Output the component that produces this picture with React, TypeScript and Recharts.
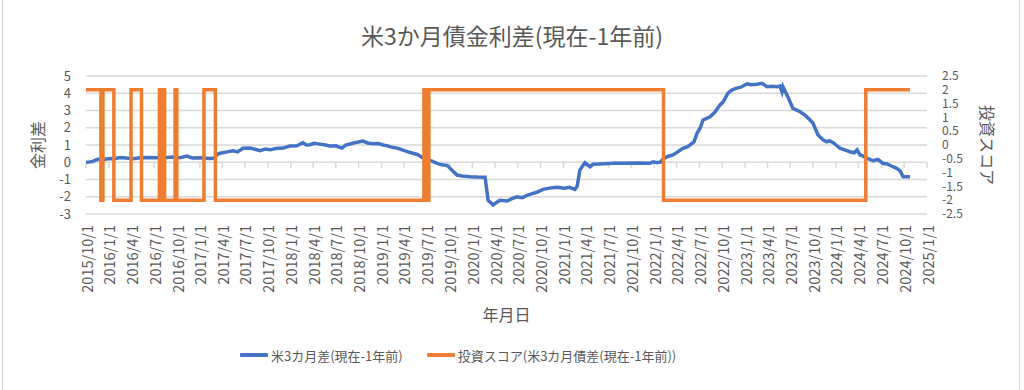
import React from 'react';
import { ComposedChart, Line, XAxis, YAxis, CartesianGrid, Legend, ReferenceLine } from 'recharts';

const FONT = '"Noto Sans CJK JP", "Noto Sans", sans-serif';
const TEXT = '#595959';
const BLUE = '#4472C4';
const ORANGE = '#ED7D31';

const chartTitle = '米3か月債金利差(現在-1年前)';
const rateName = '米3カ月差(現在-1年前)';
const scoreName = '投資スコア(米3カ月債差(現在-1年前))';
const leftAxisTitle = '金利差';
const rightAxisTitle = '投資スコア';
const xAxisTitle = '年月日';

const xTickLabels = [
  '2015/10/1', '2016/1/1', '2016/4/1', '2016/7/1', '2016/10/1', '2017/1/1', '2017/4/1', '2017/7/1',
  '2017/10/1', '2018/1/1', '2018/4/1', '2018/7/1', '2018/10/1', '2019/1/1', '2019/4/1', '2019/7/1',
  '2019/10/1', '2020/1/1', '2020/4/1', '2020/7/1', '2020/10/1', '2021/1/1', '2021/4/1', '2021/7/1',
  '2021/10/1', '2022/1/1', '2022/4/1', '2022/7/1', '2022/10/1', '2023/1/1', '2023/4/1', '2023/7/1',
  '2023/10/1', '2024/1/1', '2024/4/1', '2024/7/1', '2024/10/1', '2025/1/1',
];
const leftTicks = [-3, -2, -1, 0, 1, 2, 3, 4, 5];
const rightTicks = [-2.5, -2, -1.5, -1, -0.5, 0, 0.5, 1, 1.5, 2, 2.5];

const rateDates = [
  '2015/10/1', '2015/10/15', '2015/10/29', '2015/11/12', '2015/11/26', '2015/12/17', '2016/1/5', '2016/1/21',
  '2016/2/15', '2016/3/10', '2016/4/7', '2016/5/5', '2016/6/2', '2016/7/7', '2016/8/22', '2016/9/15',
  '2016/10/13', '2016/11/10', '2016/12/1', '2017/1/1', '2017/2/10', '2017/3/2', '2017/3/10', '2017/3/23',
  '2017/4/20', '2017/5/14', '2017/6/1', '2017/6/23', '2017/7/21', '2017/8/10', '2017/8/30', '2017/9/20',
  '2017/10/10', '2017/11/1', '2017/12/1', '2017/12/29', '2018/1/25', '2018/2/19', '2018/3/5', '2018/3/19',
  '2018/4/5', '2018/4/28', '2018/5/20', '2018/6/8', '2018/7/1', '2018/7/26', '2018/8/10', '2018/8/27',
  '2018/9/20', '2018/10/18', '2018/11/5', '2018/11/27', '2018/12/20', '2019/1/7', '2019/1/25', '2019/2/16',
  '2019/3/5', '2019/3/28', '2019/4/15', '2019/5/7', '2019/5/25', '2019/6/16', '2019/7/5', '2019/7/25',
  '2019/8/12', '2019/8/30', '2019/9/21', '2019/10/10', '2019/10/31', '2019/11/20', '2019/12/22', '2020/1/20',
  '2020/2/21', '2020/3/4', '2020/3/24', '2020/4/10', '2020/4/21', '2020/5/19', '2020/6/10', '2020/6/28',
  '2020/7/20', '2020/8/10', '2020/9/1', '2020/9/20', '2020/10/11', '2020/11/5', '2020/12/6', '2021/1/5',
  '2021/1/25', '2021/2/16', '2021/2/25', '2021/3/8', '2021/3/28', '2021/4/18', '2021/4/30', '2021/5/28',
  '2021/7/19', '2021/11/5', '2021/12/15', '2021/12/27', '2022/1/10', '2022/1/24', '2022/2/7', '2022/2/21',
  '2022/3/17', '2022/4/5', '2022/4/26', '2022/5/15', '2022/6/2', '2022/6/10', '2022/6/22', '2022/7/5',
  '2022/7/16', '2022/8/13', '2022/9/1', '2022/9/22', '2022/10/5', '2022/10/24', '2022/11/10', '2022/11/29',
  '2022/12/15', '2023/1/9', '2023/1/25', '2023/2/18', '2023/3/10', '2023/3/30', '2023/4/20', '2023/5/10',
  '2023/5/21', '2023/5/29', '2023/6/2', '2023/6/22', '2023/7/12', '2023/8/10', '2023/9/1', '2023/9/19',
  '2023/10/1', '2023/10/21', '2023/11/10', '2023/11/26', '2023/12/5', '2023/12/20', '2024/1/17', '2024/2/5',
  '2024/2/26', '2024/3/15', '2024/3/26', '2024/4/7', '2024/4/20', '2024/5/5', '2024/5/29', '2024/6/18',
  '2024/7/8', '2024/7/25', '2024/8/17', '2024/9/1', '2024/9/15', '2024/9/27', '2024/10/25',
];
const rateValues = [
  0.0, 0.02, 0.05, 0.15, 0.19, 0.17, 0.22, 0.2,
  0.28, 0.25, 0.2, 0.26, 0.28, 0.26, 0.28, 0.3,
  0.26, 0.36, 0.25, 0.26, 0.22, 0.25, 0.45, 0.52,
  0.6, 0.67, 0.6, 0.81, 0.82, 0.75, 0.67, 0.76,
  0.72, 0.8, 0.82, 0.94, 0.95, 1.13, 1.0, 1.02,
  1.1, 1.05, 1.0, 0.94, 0.95, 0.82, 1.0, 1.06,
  1.15, 1.23, 1.12, 1.07, 1.08, 1.0, 0.95, 0.85,
  0.82, 0.7, 0.62, 0.52, 0.45, 0.25, 0.15, 0.05,
  -0.06, -0.15, -0.18, -0.45, -0.74, -0.8, -0.84, -0.86,
  -0.87, -2.2, -2.48, -2.3, -2.2, -2.25, -2.1, -2.0,
  -2.05, -1.9, -1.8, -1.72, -1.57, -1.5, -1.45, -1.5,
  -1.45, -1.57, -1.4, -0.45, -0.03, -0.26, -0.12, -0.1,
  -0.06, -0.05, -0.06, 0.03, -0.02, 0.0, 0.2, 0.32,
  0.42, 0.6, 0.81, 0.9, 1.1, 1.2, 1.68, 2.0,
  2.45, 2.64, 2.9, 3.32, 3.5, 4.0, 4.2, 4.3,
  4.35, 4.55, 4.5, 4.52, 4.58, 4.38, 4.4, 4.38,
  4.42, 4.09, 4.38, 3.79, 3.12, 2.93, 2.7, 2.45,
  2.26, 1.58, 1.3, 1.19, 1.25, 1.15, 0.81, 0.72,
  0.61, 0.55, 0.72, 0.42, 0.35, 0.23, 0.09, 0.16,
  -0.06, -0.1, -0.26, -0.35, -0.5, -0.84, -0.84,
];

const scoreDates = [
  '2015/10/1', '2015/11/30', '2015/12/8', '2016/1/21', '2016/3/30', '2016/5/11', '2016/7/22', '2016/7/29',
  '2016/8/5', '2016/8/12', '2016/9/23', '2016/9/30', '2017/1/17', '2017/3/4', '2019/6/20', '2019/6/28',
  '2019/7/10', '2022/2/7', '2024/4/30', '2024/10/25',
];
const scoreValues = [2, -2, 2, -2, 2, -2, 2, -2, 2, -2, 2, -2, 2, -2, 2, -2, 2, -2, 2, 2];

const toTime = (s: string) => {
  const [y, m, d] = s.split('/').map(Number);
  return Date.UTC(y, m - 1, d);
};
const fmtDate = (t: number) => {
  const dt = new Date(t);
  return `${dt.getUTCFullYear()}/${dt.getUTCMonth() + 1}/${dt.getUTCDate()}`;
};

const rateData = rateDates.map((d, i) => ({ t: toTime(d), rate: rateValues[i] }));
const scoreData = scoreDates.map((d, i) => ({ t: toTime(d), score: scoreValues[i] }));
const xTicks = xTickLabels.map(toTime);

const XTick = (props: any) => {
  const { x, y, payload } = props;
  return (
    <text
      x={x}
      y={y}
      transform={`rotate(-90, ${x}, ${y})`}
      textAnchor="end"
      dominantBaseline="central"
      fill={TEXT}
      fontSize={14.5}
      fontFamily={FONT}
    >
      {fmtDate(payload.value)}
    </text>
  );
};

const LegendContent = () => (
  <div
    style={{
      display: 'flex',
      alignItems: 'center',
      height: 24,
      paddingLeft: 206,
      fontSize: 13,
      color: TEXT,
      fontFamily: FONT,
      whiteSpace: 'nowrap',
    }}
  >
    <span style={{ display: 'inline-block', width: 28, height: 4, background: BLUE, marginRight: 3, borderRadius: 1 }} />
    <span>{rateName}</span>
    <span style={{ display: 'inline-block', width: 24 }} />
    <span style={{ display: 'inline-block', width: 28, height: 4, background: ORANGE, marginRight: 3, borderRadius: 1 }} />
    <span>{scoreName}</span>
  </div>
);

export default function App() {
  return (
    <div
      style={{
        position: 'absolute',
        left: 0,
        top: 0,
        width: 1024,
        height: 390,
        background: '#fff',
        fontFamily: FONT,
        overflow: 'hidden',
      }}
    >
      <div
        style={{
          position: 'absolute',
          left: 2,
          top: 0,
          width: 1018,
          height: 390,
          boxSizing: 'border-box',
          borderLeft: '1px solid #d9d9d9',
          borderRight: '1px solid #d9d9d9',
        }}
      />
      <div
        style={{
          position: 'absolute',
          left: 0,
          top: 18,
          width: 1024,
          textAlign: 'center',
          fontSize: 23,
          lineHeight: '34px',
          color: TEXT,
          fontFamily: FONT,
        }}
      >
        {chartTitle}
      </div>
      <ComposedChart
        width={1024}
        height={390}
        margin={{ top: 76, right: 27, left: 34, bottom: 23 }}
      >
        <CartesianGrid yAxisId="left" vertical={false} stroke="#d9d9d9" strokeWidth={1.5} />
        <XAxis
          dataKey="t"
          type="number"
          domain={[xTicks[0], xTicks[xTicks.length - 1]]}
          ticks={xTicks}
          interval={0}
          allowDataOverflow
          axisLine={false}
          tickLine={false}
          tickMargin={5}
          height={129}
          tick={<XTick />}
          label={{ value: xAxisTitle, position: 'insideBottom', offset: 22, fill: TEXT, fontSize: 16 }}
        />
        <YAxis
          yAxisId="left"
          orientation="left"
          width={52}
          domain={[-3, 5]}
          ticks={leftTicks}
          interval={0}
          axisLine={false}
          tickLine={false}
          tickMargin={9}
          tick={{ fill: TEXT, fontSize: 13 }}
          label={{ value: leftAxisTitle, angle: -90, position: 'insideLeft', offset: 4, fill: TEXT, fontSize: 16, style: { textAnchor: 'middle' } }}
        />
        <YAxis
          yAxisId="right"
          orientation="right"
          width={70}
          domain={[-2.5, 2.5]}
          ticks={rightTicks}
          interval={0}
          axisLine={false}
          tickLine={false}
          tickMargin={9}
          tick={{ fill: TEXT, fontSize: 12 }}
          label={{ value: rightAxisTitle, angle: 90, position: 'insideRight', offset: 10, fill: TEXT, fontSize: 16, style: { textAnchor: 'middle' } }}
        />
        {xTicks.map((t) => (
          <ReferenceLine
            key={t}
            yAxisId="left"
            segment={[{ x: t, y: 0 }, { x: t, y: -0.33 }]}
            stroke="#d9d9d9"
            strokeWidth={1.5}
            ifOverflow="visible"
          />
        ))}
        <Line
          data={rateData}
          yAxisId="left"
          dataKey="rate"
          name={rateName}
          type="linear"
          stroke={BLUE}
          strokeWidth={3.5}
          dot={false}
          activeDot={false}
          isAnimationActive={false}
        />
        <Line
          data={scoreData}
          yAxisId="right"
          dataKey="score"
          name={scoreName}
          type="stepAfter"
          stroke={ORANGE}
          strokeWidth={3.5}
          dot={false}
          activeDot={false}
          isAnimationActive={false}
        />
        <Legend verticalAlign="bottom" content={<LegendContent />} />
      </ComposedChart>
    </div>
  );
}
